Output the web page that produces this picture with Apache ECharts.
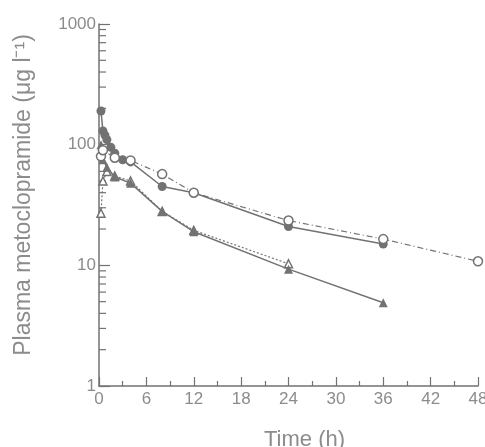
<!DOCTYPE html>
<html><head><meta charset="utf-8">
<script src="https://cdn.jsdelivr.net/npm/echarts@6/dist/echarts.min.js"></script>
<style>html,body{margin:0;padding:0;background:#fff}#c{width:485px;height:447px}</style>
</head><body><div id="c"></div>
<script>
// Time points (h) and plasma concentrations (µg/l) per patient group
const filledCircle = [[0.25,190],[0.5,130],[0.75,120],[1,110],[1.5,95],[2,85],[3,75],[4,72],[8,45],[12,40],[24,21],[36,15]];
const openCircle = [[0.25,80],[0.5,90],[2,78],[4,74],[8,57],[12,40],[24,23.5],[36,16.5],[48,10.8]];
const filledTriangle = [[0.25,100],[0.5,75],[1,65],[2,54],[4,48],[8,28],[12,19],[24,9.3],[36,4.9]];
const openTriangle = [[0.25,27],[0.5,50],[1,60],[2,55],[4,50],[8,28],[12,19.5],[24,10.3]];
const xTicks = [0,6,12,18,24,30,36,42,48];
const yMinorTicks = [2,3,4,5,6,7,8,9,20,30,40,50,60,70,80,90,200,300,400,500,600,700,800,900];

const gray = '#727272';
const textGray = '#8c8c8c';
const font = 'Liberation Sans, Arial, sans-serif';

const chart = echarts.init(document.getElementById('c'));
chart.setOption({
  animation: false,
  grid: {left: 99, right: 7, top: 24, bottom: 61, containLabel: false, outerBoundsMode: 'none'},
  xAxis: {
    type: 'value', min: xTicks[0], max: xTicks[xTicks.length-1], interval: 6,
    name: 'Time (h)', nameLocation: 'middle', nameGap: 43,
    nameTextStyle: {color: textGray, fontSize: 22, fontFamily: font, padding: [0,0,0,32]},
    axisLine: {show: true, lineStyle: {color: gray, width: 1.5}},
    axisTick: {show: true, inside: true, length: 9, lineStyle: {color: gray, width: 1.2}},
    minorTick: {show: true, splitNumber: 2, length: 5, lineStyle: {color: gray, width: 1.2}},
    axisLabel: {color: textGray, fontSize: 17, fontFamily: font, margin: 5},
    splitLine: {show: false}
  },
  yAxis: {
    type: 'log', logBase: 10, min: 1, max: 1000,
    name: 'Plasma metoclopramide (μg l⁻¹)', nameLocation: 'middle', nameGap: 64,
    nameTextStyle: {color: textGray, fontSize: 23, fontFamily: font, padding: [0,0,0,20]},
    axisLine: {show: true, lineStyle: {color: gray, width: 1.5}},
    axisTick: {show: true, inside: true, length: 11, lineStyle: {color: gray, width: 1.2}},
    axisLabel: {color: textGray, fontSize: 17, fontFamily: font, margin: 3,
      formatter: function (v) { return String(Math.round(v)); }},
    splitLine: {show: false}
  },
  series: [
    {
      type: 'custom', silent: true, clip: false, z: 1,
      data: yMinorTicks.map(v => [0, v]),
      renderItem: function (params, api) {
        const p = api.coord([0, api.value(1)]);
        return {type: 'line', shape: {x1: p[0], y1: p[1], x2: p[0] + 7, y2: p[1]},
          style: {stroke: gray, lineWidth: 1.2}};
      }
    },
    {
      type: 'line', data: openTriangle, symbol: 'triangle', symbolSize: 8,
      lineStyle: {color: gray, width: 1.2, type: [2, 2]},
      itemStyle: {color: '#fff', borderColor: gray, borderWidth: 1.5}, z: 3
    },
    {
      type: 'line', data: filledTriangle, symbol: 'triangle', symbolSize: 9,
      lineStyle: {color: gray, width: 1.5},
      itemStyle: {color: gray}, z: 4
    },
    {
      type: 'line', data: filledCircle, symbol: 'circle', symbolSize: 9,
      lineStyle: {color: gray, width: 1.5},
      itemStyle: {color: gray}, z: 4
    },
    {
      type: 'line', data: openCircle, symbol: 'circle', symbolSize: 9,
      lineStyle: {color: gray, width: 1.2, type: [6, 3, 1, 3]},
      itemStyle: {color: '#fff', borderColor: gray, borderWidth: 1.5}, z: 5
    }
  ]
});
</script></body></html>
